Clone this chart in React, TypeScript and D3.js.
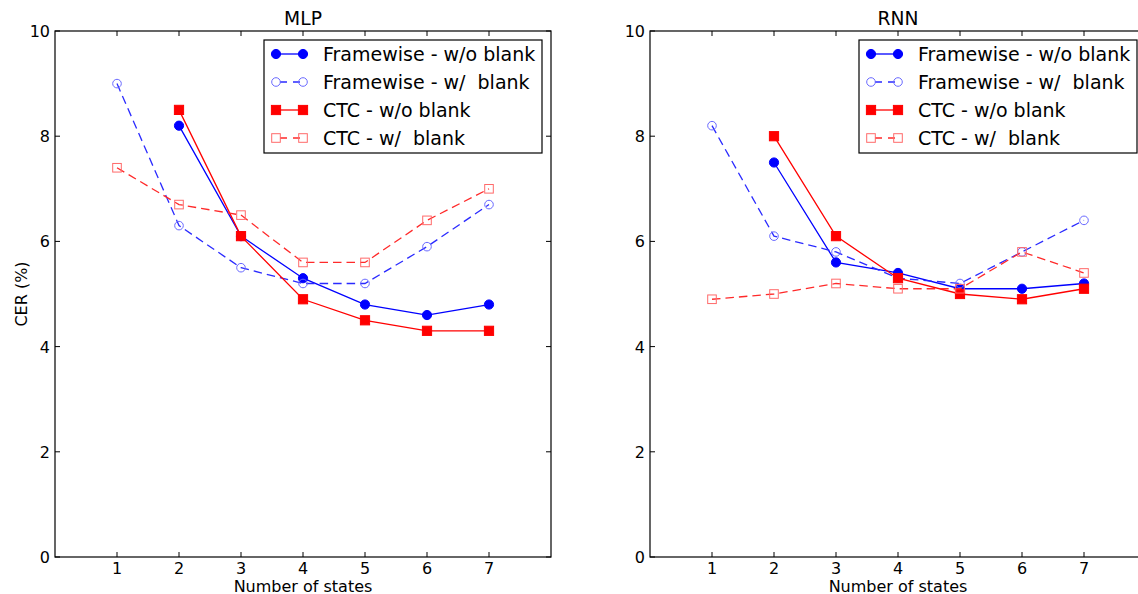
import React from "react";
import * as d3 from "d3";

const states = [1, 2, 3, 4, 5, 6, 7];
const xTicks = [1, 2, 3, 4, 5, 6, 7];
const yTicks = [0, 2, 4, 6, 8, 10];

// MLP
const mlpFrameNoBlank = [null, 8.2, 6.1, 5.3, 4.8, 4.6, 4.8];
const mlpFrameBlank = [9.0, 6.3, 5.5, 5.2, 5.2, 5.9, 6.7];
const mlpCtcNoBlank = [null, 8.5, 6.1, 4.9, 4.5, 4.3, 4.3];
const mlpCtcBlank = [7.4, 6.7, 6.5, 5.6, 5.6, 6.4, 7.0];

// RNN
const rnnFrameNoBlank = [null, 7.5, 5.6, 5.4, 5.1, 5.1, 5.2];
const rnnFrameBlank = [8.2, 6.1, 5.8, 5.3, 5.2, 5.8, 6.4];
const rnnCtcNoBlank = [null, 8.0, 6.1, 5.3, 5.0, 4.9, 5.1];
const rnnCtcBlank = [4.9, 5.0, 5.2, 5.1, 5.1, 5.8, 5.4];

const seriesNames = [
  "Framewise - w/o blank",
  "Framewise - w/  blank",
  "CTC - w/o blank",
  "CTC - w/  blank",
];

type Style = { color: string; mcolor: string; dashed: boolean; shape: "circle" | "square"; filled: boolean };
const styles: Style[] = [
  { color: "#0000ff", mcolor: "#0000ff", dashed: false, shape: "circle", filled: true },
  { color: "#2a2aff", mcolor: "#6a6aff", dashed: true, shape: "circle", filled: false },
  { color: "#ff0000", mcolor: "#ff0000", dashed: false, shape: "square", filled: true },
  { color: "#ff2a2a", mcolor: "#ff6a6a", dashed: true, shape: "square", filled: false },
];

const panels = [
  { title: "MLP", left: 55, series: [mlpFrameNoBlank, mlpFrameBlank, mlpCtcNoBlank, mlpCtcBlank], ylabel: true },
  { title: "RNN", left: 650, series: [rnnFrameNoBlank, rnnFrameBlank, rnnCtcNoBlank, rnnCtcBlank], ylabel: false },
];

const FONT = "DejaVu Sans, sans-serif";
const TOP = 31;
const BOTTOM = 557;
const PW = 496;

function Marker({ x, y, s }: { x: number; y: number; s: Style }) {
  if (s.shape === "circle") {
    return (
      <circle cx={x} cy={y} r={s.filled ? 4.6 : 4.3}
        fill={s.filled ? s.mcolor : "none"} stroke={s.mcolor} strokeWidth={1} />
    );
  }
  const h = s.filled ? 4.6 : 4.3;
  return (
    <rect x={x - h} y={y - h} width={2 * h} height={2 * h}
      fill={s.filled ? s.mcolor : "none"} stroke={s.mcolor} strokeWidth={1} />
  );
}

function Panel({ p }: { p: (typeof panels)[0] }) {
  const x = d3.scaleLinear().domain([0, 8]).range([p.left, p.left + PW]);
  const y = d3.scaleLinear().domain([0, 10]).range([BOTTOM, TOP]);
  const right = p.left + PW;
  const lg = { x: right - 9 - 278, y: TOP + 9, w: 278, h: 113 };
  return (
    <g>
      {p.series.map((vals, i) => {
        const s = styles[i];
        const pts = states.map((st, j) => [st, vals[j]] as [number, number | null]).filter((d) => d[1] != null) as [number, number][];
        const line = d3.line<[number, number]>().x((d) => x(d[0])).y((d) => y(d[1]));
        return (
          <g key={i}>
            <path d={line(pts) || ""} fill="none" stroke={s.color} strokeWidth={1.3}
              strokeDasharray={s.dashed ? "8.5,5" : undefined} />
            {pts.map((d, j) => <Marker key={j} x={x(d[0])} y={y(d[1])} s={s} />)}
          </g>
        );
      })}
      {/* frame */}
      <rect x={p.left} y={TOP} width={PW} height={BOTTOM - TOP} fill="none" stroke="#000" strokeWidth={1.2} />
      {xTicks.map((t) => (
        <g key={"x" + t}>
          <line x1={x(t)} x2={x(t)} y1={BOTTOM} y2={BOTTOM - 5} stroke="#000" strokeWidth={1} />
          <line x1={x(t)} x2={x(t)} y1={TOP} y2={TOP + 5} stroke="#000" strokeWidth={1} />
          <text x={x(t)} y={574} textAnchor="middle" fontFamily={FONT} fontSize={16} fill="#000">{t}</text>
        </g>
      ))}
      {yTicks.map((t) => (
        <g key={"y" + t}>
          <line x1={p.left} x2={p.left + 5} y1={y(t)} y2={y(t)} stroke="#000" strokeWidth={1} />
          <line x1={right} x2={right - 5} y1={y(t)} y2={y(t)} stroke="#000" strokeWidth={1} />
          <text x={p.left - 5} y={y(t) + 6} textAnchor="end" fontFamily={FONT} fontSize={16} fill="#000">{t}</text>
        </g>
      ))}
      <text x={(p.left + right) / 2} y={25} textAnchor="middle" fontFamily={FONT} fontSize={18.7} fill="#000">{p.title}</text>
      <text x={(p.left + right) / 2} y={591.5} textAnchor="middle" fontFamily={FONT} fontSize={16} fill="#000">Number of states</text>
      {p.ylabel && (
        <text transform={`translate(26.5,${(TOP + BOTTOM) / 2}) rotate(-90)`} textAnchor="middle" fontFamily={FONT} fontSize={16} fill="#000">CER (%)</text>
      )}
      {/* legend */}
      <rect x={lg.x} y={lg.y} width={lg.w} height={lg.h} fill="#fff" stroke="#000" strokeWidth={1.2} />
      {seriesNames.map((name, i) => {
        const s = styles[i];
        const cy = lg.y + 14 + i * 28;
        const x1 = lg.x + 12, x2 = lg.x + 39;
        return (
          <g key={name}>
            <line x1={x1} x2={x2} y1={cy} y2={cy} stroke={s.color} strokeWidth={1.3}
              strokeDasharray={s.dashed ? "7,6" : undefined} strokeDashoffset={s.dashed ? -4 : 0} />
            <Marker x={x1} y={cy} s={s} />
            <Marker x={x2} y={cy} s={s} />
            <text x={lg.x + 59} y={cy + 7} fontFamily={FONT} fontSize={19} fill="#000" style={{ whiteSpace: "pre" }}>{name}</text>
          </g>
        );
      })}
    </g>
  );
}

export default function App() {
  return (
    <svg width={1138} height={594} style={{ position: "absolute", left: 0, top: 0, background: "#fff" }}>
      <rect x={0} y={0} width={1138} height={594} fill="#fff" />
      {panels.map((p) => <Panel key={p.title} p={p} />)}
    </svg>
  );
}
